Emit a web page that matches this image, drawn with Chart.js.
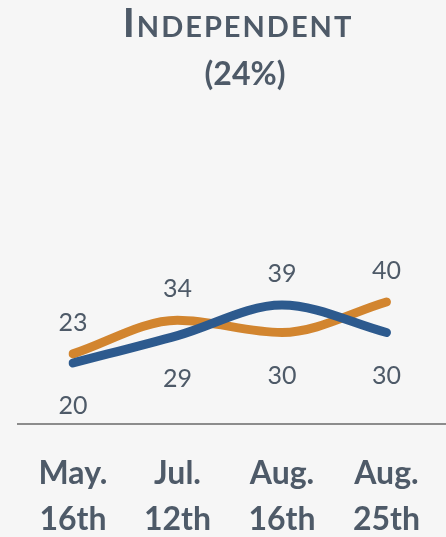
<!DOCTYPE html>
<html>
<head>
<meta charset="utf-8">
<script src="https://cdn.jsdelivr.net/npm/chart.js@4/dist/chart.umd.min.js"></script>
<style>
  html, body { margin: 0; padding: 0; background: #f6f6f6; overflow: hidden; }
  #wrap { position: relative; width: 446px; height: 537px; }
  #head { position: absolute; top: 0; left: 30px; right: 0; text-align: center; color: #4e5a68; font-family: Lato, "Open Sans", sans-serif; font-weight: bold; }
  #head h1 { margin: 0; font-size: 41px; line-height: 44px; letter-spacing: 2px; font-variant: small-caps; }
  #head h2 { margin: 0; margin-top: 10px; font-size: 32px; line-height: 38px; padding-left: 14px; }
</style>
</head>
<body>
<div id="wrap">
  <canvas id="chart" width="446" height="537"></canvas>
  <div id="head">
    <h1>Independent</h1>
    <h2>(24%)</h2>
  </div>
</div>
<script>
// data
const dates = [["May.", "16th"], ["Jul.", "12th"], ["Aug.", "16th"], ["Aug.", "25th"]];
const blueValues = [20, 29, 39, 30];
const orangeValues = [23, 34, 30, 40];

const textColor = "#4e5a68";

// baseline across the full width + value labels (higher one above, lower one below)
const extras = {
  id: "extras",
  afterDatasetsDraw(chart) {
    const ctx = chart.ctx;
    const y = chart.scales.y;
    const y0 = y.getPixelForValue(0);
    ctx.save();
    ctx.strokeStyle = "#8c8c8c";
    ctx.lineWidth = 2;
    ctx.beginPath();
    ctx.moveTo(17, y0);
    ctx.lineTo(chart.width, y0);
    ctx.stroke();

    ctx.fillStyle = textColor;
    ctx.font = "25px Lato";
    ctx.textAlign = "center";
    ctx.textBaseline = "middle";
    const metaB = chart.getDatasetMeta(0);
    const metaO = chart.getDatasetMeta(1);
    blueValues.forEach((b, i) => {
      const o = orangeValues[i];
      const pb = metaB.data[i], po = metaO.data[i];
      const hi = b > o ? pb : po, lo = b > o ? po : pb;
      ctx.fillText(String(Math.max(b, o)), hi.x, hi.y - 31);
      ctx.fillText(String(Math.min(b, o)), lo.x, lo.y + 43);
    });
    ctx.restore();
  }
};

new Chart(document.getElementById("chart"), {
  type: "line",
  data: {
    labels: dates,
    datasets: [
      {
        data: blueValues,
        borderColor: "#2d5a8e",
        borderWidth: 9,
        borderCapStyle: "round",
        pointRadius: 0,
        cubicInterpolationMode: "monotone",
      },
      {
        data: orangeValues,
        borderColor: "#d2852f",
        borderWidth: 9,
        borderCapStyle: "round",
        pointRadius: 0,
        cubicInterpolationMode: "monotone",
      },
    ],
  },
  options: {
    responsive: false,
    animation: false,
    layout: { padding: { left: 73, right: 40, top: 119, bottom: 0 } },
    scales: {
      x: {
        offset: false,
        grid: { display: false, drawTicks: false },
        border: { display: false },
        afterFit(scale) {
          scale.height = 113;
        },
        ticks: {
          color: textColor,
          padding: 26,
          maxRotation: 0,
          autoSkip: false,
          font: { family: "Lato", size: 32, weight: "bold", lineHeight: 1.45 },
        },
      },
      y: {
        display: false,
        min: 0,
        max: 100,
      },
    },
    plugins: {
      legend: { display: false },
      tooltip: { enabled: false },
    },
  },
  plugins: [extras],
});
</script>
</body>
</html>
